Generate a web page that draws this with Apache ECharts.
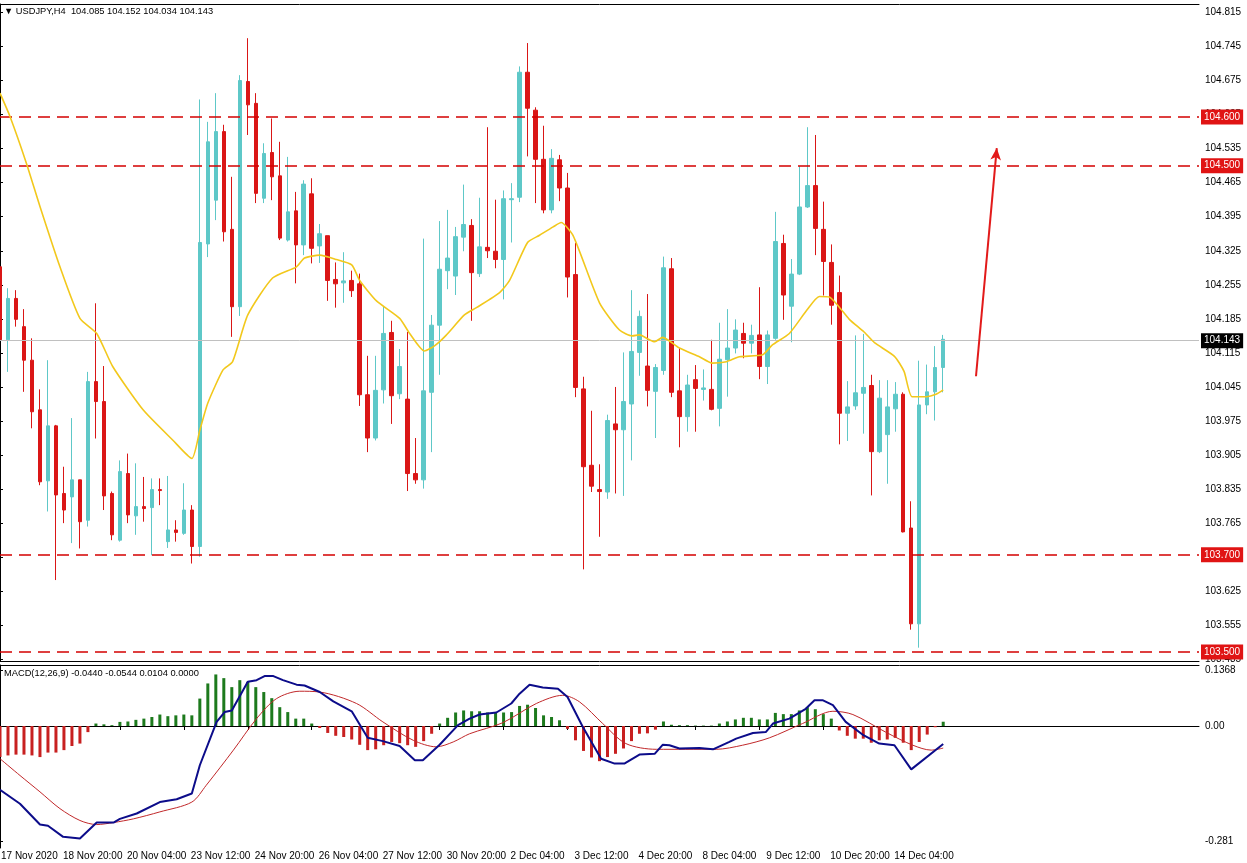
<!DOCTYPE html>
<html><head><meta charset="utf-8">
<script src="https://cdn.jsdelivr.net/npm/echarts@6/dist/echarts.min.js"></script>
<style>html,body{margin:0;padding:0;background:#fff;overflow:hidden}#c{width:1247px;height:863px}</style>
</head><body><div id="c"></div>
<script>
// ---- data (USDJPY H4) ----
const opens=[104.292,104.142,104.227,104.169,104.100,103.998,103.852,103.965,103.826,103.819,103.854,103.771,104.056,104.015,103.826,103.730,103.867,103.780,103.799,103.797,103.834,103.727,103.751,103.744,103.792,103.717,104.339,104.429,104.570,104.369,104.210,104.673,104.628,104.433,104.527,104.479,104.347,104.407,104.337,104.442,104.335,104.356,104.266,104.259,104.264,104.257,104.029,103.940,104.039,104.157,104.031,104.020,103.867,103.854,104.034,104.172,104.284,104.273,104.353,104.377,104.278,104.332,104.324,104.307,104.430,104.435,104.692,104.614,104.513,104.409,104.512,104.454,104.276,104.041,103.884,103.834,103.829,103.969,103.957,104.010,104.116,104.088,104.036,104.079,104.288,104.037,103.984,104.060,104.040,104.040,104.001,104.101,104.125,104.155,104.135,104.152,104.087,104.145,104.340,104.211,104.277,104.415,104.459,104.369,104.301,104.239,103.991,104.006,104.032,104.048,103.912,103.947,104.000,104.030,103.755,103.558,104.008,104.035,104.085];
const highs=[104.374,104.248,104.244,104.205,104.145,104.040,104.100,103.967,103.881,103.981,103.854,104.076,104.217,104.088,103.830,103.894,103.908,103.888,103.860,103.857,103.857,103.862,103.771,103.847,103.802,104.636,104.590,104.649,104.584,104.477,104.686,104.762,104.649,104.546,104.597,104.549,104.518,104.446,104.470,104.474,104.380,104.356,104.301,104.322,104.284,104.278,104.109,104.109,104.211,104.181,104.123,104.158,103.940,104.350,104.193,104.386,104.409,104.374,104.461,104.390,104.434,104.579,104.430,104.449,104.464,104.704,104.752,104.620,104.582,104.534,104.522,104.485,104.341,104.066,103.996,103.886,103.988,104.045,104.116,104.244,104.202,104.236,104.092,104.313,104.310,104.125,104.070,104.090,104.081,104.142,104.177,104.205,104.184,104.177,104.173,104.250,104.161,104.405,104.358,104.308,104.499,104.579,104.563,104.426,104.338,104.274,104.057,104.151,104.154,104.070,104.059,104.059,104.055,104.034,103.810,104.099,104.091,104.129,104.152];
const lows=[104.070,104.076,104.169,104.035,103.960,103.843,103.789,103.648,103.765,103.724,103.713,103.758,103.939,103.792,103.730,103.727,103.765,103.741,103.768,103.699,103.802,103.714,103.727,103.741,103.682,103.696,104.312,104.388,104.344,104.148,104.191,104.563,104.423,104.423,104.429,104.347,104.344,104.258,104.316,104.299,104.300,104.222,104.208,104.218,104.230,104.006,103.911,103.935,104.011,103.969,104.020,103.831,103.846,103.836,103.911,104.070,104.246,104.234,104.324,104.181,104.271,104.310,104.289,104.225,104.342,104.425,104.519,104.423,104.402,104.402,104.427,104.229,104.024,103.670,103.829,103.737,103.815,103.826,103.821,103.894,104.068,104.005,103.940,104.070,104.024,103.921,103.953,103.953,104.017,103.997,103.964,104.025,104.114,104.104,104.114,104.061,104.051,104.142,104.183,104.137,104.275,104.413,104.316,104.233,104.173,103.927,103.934,103.998,103.949,103.822,103.909,103.846,103.953,103.746,103.546,103.509,103.989,103.976,104.034];
const closes=[104.142,104.227,104.184,104.100,103.994,103.850,103.965,103.823,103.792,103.854,103.768,104.056,104.015,103.821,103.741,103.871,103.782,103.799,103.795,103.834,103.832,103.751,103.746,103.792,103.717,104.342,104.549,104.570,104.364,104.210,104.675,104.625,104.443,104.525,104.477,104.351,104.405,104.337,104.462,104.330,104.360,104.264,104.257,104.263,104.243,104.029,103.940,104.038,104.155,104.027,104.087,103.867,103.854,104.037,104.172,104.287,104.310,104.354,104.379,104.280,104.333,104.325,104.307,104.432,104.432,104.692,104.618,104.513,104.409,104.515,104.454,104.271,104.044,103.881,103.841,103.830,103.976,103.957,104.015,104.118,104.190,104.038,104.085,104.290,104.034,103.984,104.049,104.042,104.043,103.999,104.102,104.125,104.162,104.135,104.151,104.087,104.152,104.344,104.234,104.277,104.415,104.459,104.371,104.303,104.213,103.991,104.004,104.033,104.044,103.912,104.022,104.004,104.030,103.747,103.558,104.008,104.035,104.085,104.143];
// moving average read as [bar index, price]
const maPoints=[[0,104.649],[1.25,104.601],[3.3,104.505],[5,104.416],[7.5,104.292],[10,104.186],[12.1,104.155],[14.1,104.087],[17.9,103.998],[21.6,103.936],[24,103.898],[25,103.956],[26,104.012],[27.9,104.080],[29.1,104.097],[31,104.193],[34.1,104.269],[37.1,104.292],[38.1,104.310],[40,104.316],[42.1,104.307],[44,104.296],[45,104.264],[47.1,104.222],[50,104.186],[51.25,104.155],[53.1,104.119],[54.4,104.130],[55.8,104.151],[58.1,104.193],[59.6,104.208],[62.5,104.239],[63.75,104.264],[66,104.342],[67.5,104.357],[69.2,104.374],[70.2,104.383],[71.7,104.356],[75,104.218],[77.5,104.162],[79.1,104.150],[80,104.152],[81.25,104.142],[81.9,104.138],[82.9,104.147],[85,104.125],[87.5,104.107],[89.1,104.094],[90.9,104.097],[92.5,104.107],[95.4,104.111],[96.6,104.131],[98.75,104.155],[100.9,104.202],[102.5,104.231],[103.75,104.230],[105,104.209],[106.25,104.184],[108.1,104.158],[109.4,104.136],[111.9,104.108],[113.1,104.077],[114.1,104.025],[115.9,104.025],[117.1,104.030],[118,104.039]];
const histogram=[-0.076,-0.072,-0.070,-0.070,-0.072,-0.076,-0.065,-0.065,-0.059,-0.049,-0.043,-0.015,0.006,0.004,0.002,0.010,0.011,0.015,0.018,0.022,0.028,0.024,0.026,0.028,0.026,0.067,0.104,0.126,0.117,0.095,0.112,0.108,0.095,0.083,0.068,0.046,0.034,0.018,0.018,0.006,-0.005,-0.017,-0.024,-0.027,-0.033,-0.046,-0.059,-0.057,-0.047,-0.039,-0.042,-0.047,-0.051,-0.037,-0.019,0.006,0.020,0.033,0.038,0.036,0.036,0.033,0.033,0.033,0.034,0.049,0.052,0.044,0.026,0.022,0.014,-0.007,-0.035,-0.061,-0.077,-0.086,-0.076,-0.068,-0.055,-0.037,-0.019,-0.018,-0.009,0.011,0.003,0.002,0.002,0.001,0.001,0.001,0.006,0.011,0.016,0.020,0.020,0.016,0.016,0.032,0.029,0.029,0.038,0.046,0.041,0.029,0.018,-0.011,-0.024,-0.031,-0.031,-0.041,-0.035,-0.033,-0.029,-0.041,-0.059,-0.039,-0.021,-0.003,0.0104];
const macdPoints=[[0,-0.156],[2.5,-0.190],[5,-0.241],[6,-0.244],[7.9,-0.271],[10,-0.275],[12.1,-0.236],[14.2,-0.236],[15,-0.227],[17.1,-0.214],[20,-0.186],[22.1,-0.179],[24,-0.165],[25,-0.096],[27.1,0.010],[28.1,0.034],[29,0.038],[31,0.108],[32.1,0.112],[33.1,0.122],[34.2,0.122],[35.4,0.112],[37.1,0.101],[38.1,0.099],[40,0.083],[41.7,0.060],[44,0.036],[46,-0.029],[47.9,-0.037],[50,-0.049],[51.9,-0.084],[52.9,-0.084],[55,-0.046],[57.3,0.002],[58.75,0.018],[60,0.028],[62.1,0.033],[63.96,0.055],[65,0.079],[66.25,0.101],[67.9,0.094],[69.8,0.091],[71,0.071],[72.9,-0.002],[75.2,-0.080],[76.9,-0.092],[78.1,-0.092],[80,-0.070],[81.9,-0.068],[82.9,-0.046],[83.75,-0.047],[85,-0.055],[87.5,-0.054],[89.2,-0.057],[91.25,-0.039],[92.1,-0.031],[94.2,-0.017],[95.8,-0.015],[96.7,0.006],[98.75,0.018],[100.8,0.042],[101.9,0.063],[102.9,0.063],[104.2,0.051],[105.8,0.010],[107.9,-0.021],[110,-0.043],[111.9,-0.047],[114,-0.106],[118,-0.044]];
const signalPoints=[[0,-0.080],[2.5,-0.121],[5,-0.161],[7.5,-0.202],[10,-0.231],[12.1,-0.241],[14.2,-0.236],[16.7,-0.227],[20,-0.210],[24,-0.186],[25.8,-0.145],[29.2,-0.059],[32.1,0.018],[34.6,0.067],[37.5,0.085],[40,0.083],[44.6,0.055],[47.9,0.010],[51.7,-0.035],[54.6,-0.051],[56.7,-0.039],[58.75,-0.019],[62.9,0.008],[67.1,0.055],[70.4,0.075],[72.5,0.059],[75.4,0.006],[78.3,-0.043],[82.1,-0.057],[85.8,-0.057],[89.6,-0.057],[92.9,-0.047],[96.25,-0.029],[100.4,0.006],[104.2,0.036],[106.7,0.028],[110.8,-0.015],[114.2,-0.047],[116.5,-0.059],[118,-0.054]];
const priceTicks=[103.485,103.555,103.625,103.695,103.765,103.835,103.905,103.975,104.045,104.115,104.185,104.255,104.325,104.395,104.465,104.535,104.605,104.675,104.745,104.815];
const macdTicks=[0.1368,0,-0.281];
const macdTickLabels=['0.1368','0.00','-0.281'];
const levels=[104.6,104.5,103.7,103.5];
const lastPrice=104.143;
const xTickLabels=['17 Nov 2020','18 Nov 20:00','20 Nov 04:00','23 Nov 12:00','24 Nov 20:00','26 Nov 04:00','27 Nov 12:00','30 Nov 20:00','2 Dec 04:00','3 Dec 12:00','4 Dec 20:00','8 Dec 04:00','9 Dec 12:00','10 Dec 20:00','14 Dec 04:00'];
const arrowFrom=[122.1,104.067], arrowTo=[124.7,104.536];
const headerText='\u25BC USDJPY,H4  104.085 104.152 104.034 104.143';
const macdText='MACD(12,26,9) -0.0440 -0.0544 0.0104 0.0000';
const SLOTS=151; // visible bar slots incl. right-hand shift space

// ---- categories: H4 bar times, weekends skipped ----
const MONTHS=['Jan','Feb','Mar','Apr','May','Jun','Jul','Aug','Sep','Oct','Nov','Dec'];
const categories=[];
let t=Date.UTC(2020,10,17,16);
for(let i=0;i<SLOTS;i++){
  const d=new Date(t);
  categories.push(d.getUTCDate()+' '+MONTHS[d.getUTCMonth()]+' '+String(d.getUTCHours()).padStart(2,'0')+':00');
  t+=4*3600e3;
  if(new Date(t).getUTCDay()===6) t+=48*3600e3;
}
const tickSet=new Set(xTickLabels.slice(1));
const showTick=(idx)=> idx>0 && idx<opens.length && tickSet.has(categories[idx]);

const FONT='Liberation Sans';
const FS=10, TFS=9.3;
const candles=opens.map((o,i)=>[o,closes[i],lows[i],highs[i]]);
const BULL='#5ec8c8', BEAR='#da1616', LEVEL='#d40000';

const boxLabel=(txt,bg)=>({show:true,position:'end',distance:2,formatter:()=>txt,color:'#fff',backgroundColor:bg,
  padding:[3,3,2,3],fontSize:FS,fontFamily:FONT,lineHeight:10});
const levelLines=levels.map(v=>({yAxis:v,lineStyle:{color:LEVEL,type:[12,7],width:1.5},label:boxLabel(v.toFixed(3),'#e01414')}));
const priceLine={yAxis:lastPrice,lineStyle:{color:'#c0c0c0',type:'solid',width:1},label:boxLabel(lastPrice.toFixed(3),'#000')};
const arrowLine=[{coord:arrowFrom,symbol:'none'},{coord:arrowTo,symbol:'arrow',symbolSize:[8,12],
  lineStyle:{color:'#e21a1a',width:2,type:'solid'},label:{show:false}}];

const chart=echarts.init(document.getElementById('c'),null,{renderer:'canvas'});
chart.setOption({
  animation:false,
  backgroundColor:'#fff',
  title:[
    {text:headerText,left:4,top:7,padding:0,textStyle:{fontSize:TFS,fontWeight:'normal',color:'#000',fontFamily:FONT}},
    {text:macdText,left:4,top:669,padding:0,textStyle:{fontSize:TFS,fontWeight:'normal',color:'#000',fontFamily:FONT}},
    {text:xTickLabels[0],left:1,top:851,padding:0,textStyle:{fontSize:FS,fontWeight:'normal',color:'#000',fontFamily:FONT}}
  ],
  grid:[
    {left:0,right:48,top:4,height:657},
    {left:0,right:48,top:665,height:183}
  ],
  xAxis:[
    {type:'category',gridIndex:0,data:categories,boundaryGap:false,position:'bottom',
      axisLine:{show:true,lineStyle:{color:'#000'}},axisTick:{show:false},axisLabel:{show:false},splitLine:{show:false}},
    {type:'value',gridIndex:0,min:0,max:SLOTS-1,position:'top',
      axisLine:{show:true,lineStyle:{color:'#000'}},axisTick:{show:false},axisLabel:{show:false},splitLine:{show:false}},
    {type:'category',gridIndex:1,data:categories,boundaryGap:false,position:'bottom',
      axisLine:{show:true,lineStyle:{color:'#000'}},
      axisTick:{show:true,interval:showTick,length:4,lineStyle:{color:'#000'}},
      axisLabel:{show:true,interval:showTick,align:'left',margin:3,padding:[0,0,0,7],fontSize:FS,color:'#000',fontFamily:FONT},
      splitLine:{show:false}},
    {type:'value',gridIndex:1,min:0,max:SLOTS-1,position:'top',
      axisLine:{show:true,lineStyle:{color:'#000'}},axisTick:{show:false},axisLabel:{show:false},splitLine:{show:false}}
  ],
  yAxis:[
    {type:'value',gridIndex:0,position:'right',min:103.4816,max:104.8323,
      axisLine:{show:true,lineStyle:{color:'#000'}},
      axisTick:{show:true,customValues:priceTicks,length:3,lineStyle:{color:'#000'}},
      axisLabel:{show:true,customValues:priceTicks,margin:6,fontSize:FS,color:'#000',fontFamily:FONT,formatter:v=>v.toFixed(3)},
      splitLine:{show:false}},
    {type:'value',gridIndex:1,position:'right',min:-0.2983,max:0.1491,
      axisLine:{show:true,lineStyle:{color:'#000'}},
      axisTick:{show:true,customValues:macdTicks,length:3,lineStyle:{color:'#000'}},
      axisLabel:{show:true,customValues:macdTicks,margin:6,fontSize:FS,color:'#000',fontFamily:FONT,
        formatter:v=>{const k=macdTicks.findIndex(m=>Math.abs(m-v)<1e-6);return k>=0?macdTickLabels[k]:'';}},
      splitLine:{show:false}}
  ],
  series:[
    {type:'candlestick',xAxisIndex:0,yAxisIndex:0,data:candles,barWidth:4,
      itemStyle:{color:BULL,color0:BEAR,borderColor:BULL,borderColor0:BEAR,borderWidth:1}},
    {type:'line',name:'MA',xAxisIndex:1,yAxisIndex:0,data:maPoints,showSymbol:false,smooth:0.2,
      lineStyle:{color:'#f2c81c',width:1.6},z:5,
      markLine:{silent:true,symbol:['none','none'],animation:false,
        lineStyle:{color:LEVEL,type:[12,7],width:1.5},
        data:[...levelLines,priceLine,arrowLine]}},
    {type:'bar',xAxisIndex:2,yAxisIndex:1,data:histogram,barWidth:3,
      itemStyle:{color:p=>p.value>=0?'#1d7a1d':'#c82020'}},
    {type:'line',xAxisIndex:3,yAxisIndex:1,data:signalPoints,showSymbol:false,smooth:0.3,
      lineStyle:{color:'#c0282a',width:1}},
    {type:'line',xAxisIndex:3,yAxisIndex:1,data:macdPoints,showSymbol:false,
      lineStyle:{color:'#0c0c8a',width:2}}
  ]
});
</script></body></html>
